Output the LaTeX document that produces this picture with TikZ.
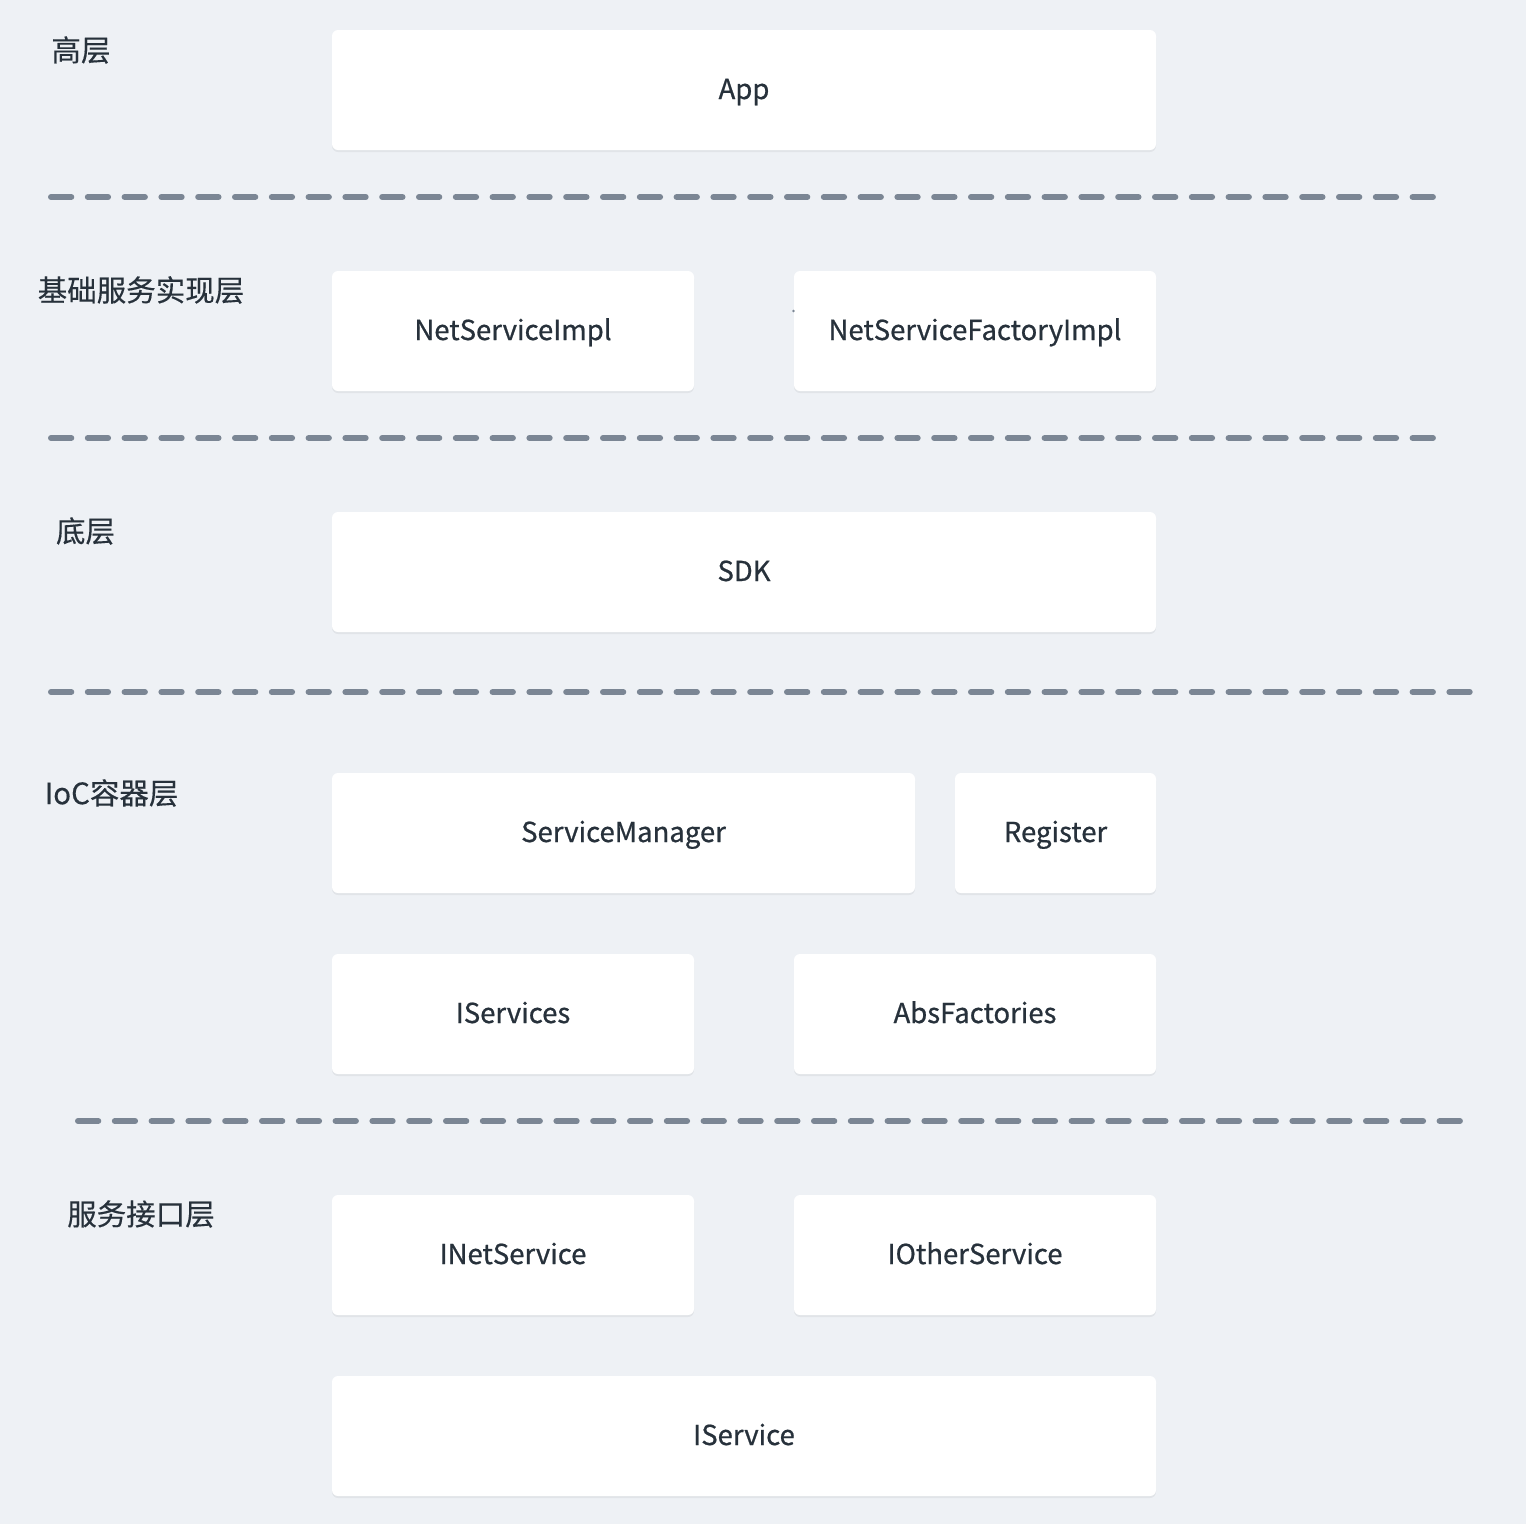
\documentclass[tikz,border=0pt]{standalone}
\usepackage{fontspec}
\setmainfont{Noto Sans CJK SC}
\newfontfamily\boxfont[FakeBold=0.7]{Noto Sans CJK SC}
\newfontfamily\labfont[FakeBold=0.3]{Noto Sans CJK SC}
\usetikzlibrary{shadows}
\definecolor{bgc}{HTML}{EEF1F5}
\definecolor{dashc}{HTML}{7B8694}
\definecolor{txtc}{HTML}{27313B}
\begin{document}
\begin{tikzpicture}[x=1pt,y=-1pt,
  box/.style={rounded corners=6pt, fill=white, inner sep=0pt, text=txtc,
    font=\boxfont\fontsize{27.5}{32}\selectfont, text height=20pt, text depth=2pt,
    drop shadow={shadow xshift=0pt, shadow yshift=-2pt, opacity=0.05, fill=black}},
  lab/.style={inner sep=0pt, text=txtc, font=\labfont\fontsize{29.5}{34}\selectfont},
  sep/.style={line width=6pt, line cap=round, draw=dashc, dash pattern=on 20.3pt off 16.5pt}]
\fill[bgc] (0,0) rectangle (1526,1524);
\useasboundingbox (0,0) rectangle (1526,1524);
% labels
\node[lab] (l1) at (81,50) {高层};
\node[lab] (l2) at (141,290) {基础服务实现层};
\node[lab] (l3) at (85.5,531) {底层};
\node[lab] (l4) at (111.5,793) {IoC容器层};
\node[lab] (l5) at (141,1214) {服务接口层};
% boxes
\node[box, minimum width=824pt, minimum height=120pt] (app) at (744,90) {App};
\node[box, minimum width=362pt, minimum height=120pt] (nsi) at (513,331) {NetServiceImpl};
\node[box, minimum width=362pt, minimum height=120pt] (nsfi) at (975,331) {NetServiceFactoryImpl};
\node[box, minimum width=824pt, minimum height=120pt] (sdk) at (744,572) {SDK};
\node[box, minimum width=583pt, minimum height=120pt] (sm) at (623.5,833) {ServiceManager};
\node[box, minimum width=201pt, minimum height=120pt] (reg) at (1055.5,833) {Register};
\node[box, minimum width=362pt, minimum height=120pt] (iss) at (513,1014) {IServices};
\node[box, minimum width=362pt, minimum height=120pt] (abf) at (975,1014) {AbsFactories};
\node[box, minimum width=362pt, minimum height=120pt] (ins) at (513,1255) {INetService};
\node[box, minimum width=362pt, minimum height=120pt] (ios) at (975,1255) {IOtherService};
\node[box, minimum width=824pt, minimum height=120pt] (is) at (744,1436) {IService};
% small dot
\fill[dashc] (793.5,311) circle (1.3pt);
% separators
\coordinate (s1a) at (51,197); \coordinate (s1b) at (1434,197);
\coordinate (s2a) at (51,438); \coordinate (s2b) at (1434,438);
\coordinate (s3a) at (51,692); \coordinate (s3b) at (1470,692);
\coordinate (s4a) at (78,1121); \coordinate (s4b) at (1460,1121);
\draw[sep] (s1a) -- (s1b);
\draw[sep] (s2a) -- (s2b);
\draw[sep] (s3a) -- (s3b);
\draw[sep] (s4a) -- (s4b);
\end{tikzpicture}
\end{document}
